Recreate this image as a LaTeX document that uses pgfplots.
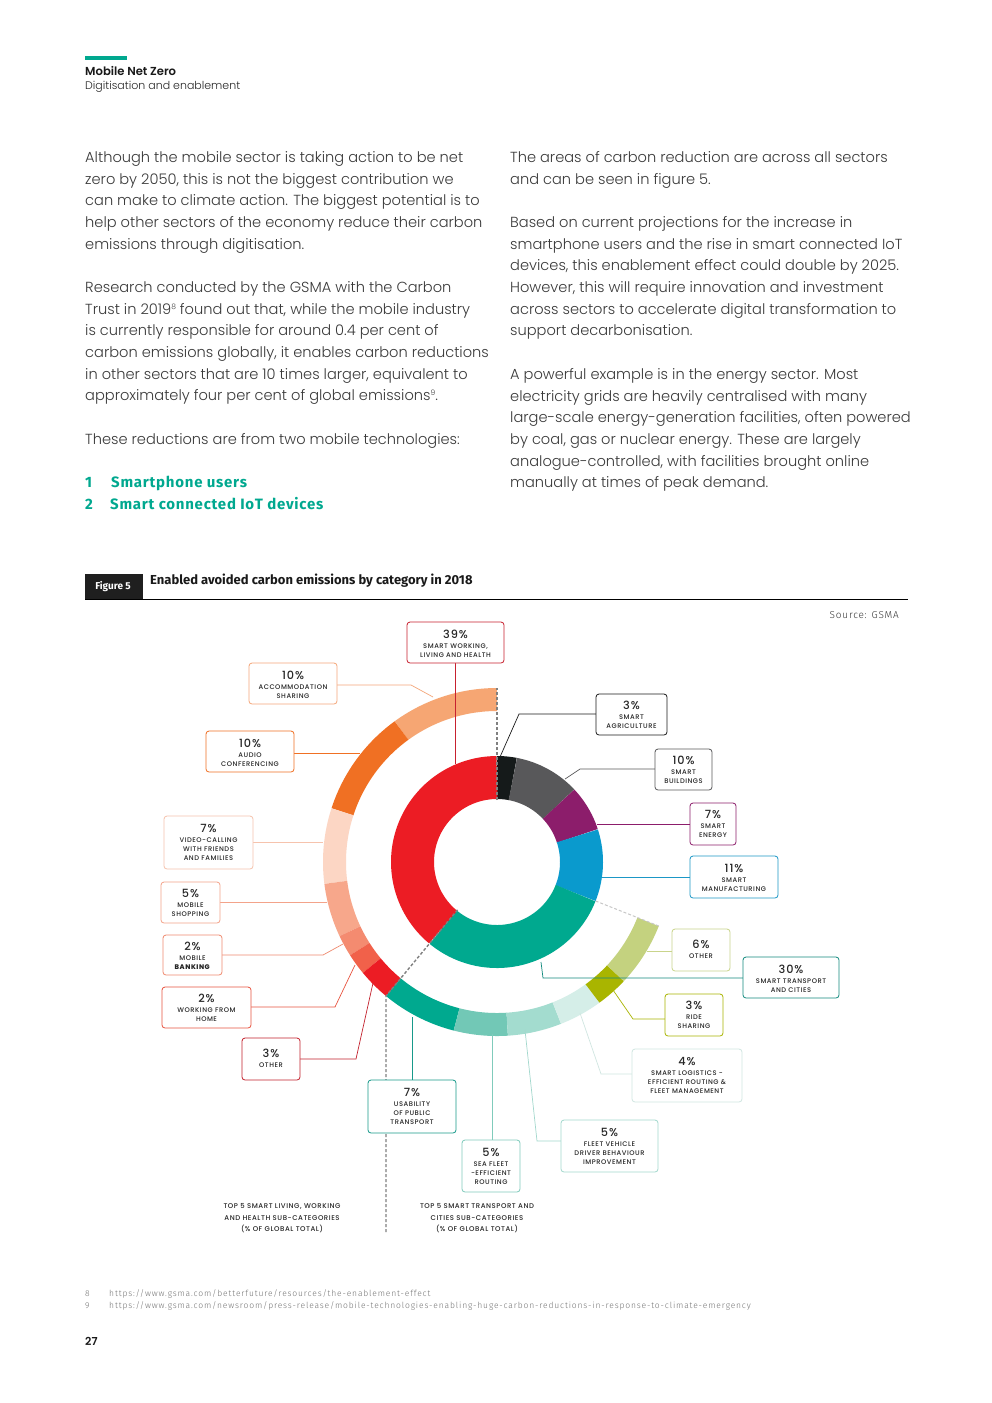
\documentclass[border=0pt]{standalone}
\usepackage{fontspec}
\usepackage{pgfplots}
\pgfplotsset{compat=1.18}
\usepgfplotslibrary{polar}

\setmainfont{Poppins}
\IfFontExistsTF{Poppins Light}{\newfontfamily\fLight{Poppins Light}}{\newfontfamily\fLight{Poppins}}
\IfFontExistsTF{Poppins Medium}{\newfontfamily\fMed{Poppins Medium}[LetterSpace=8]\newfontfamily\fLab{Poppins Medium}[LetterSpace=8]}{\newfontfamily\fMed{Poppins}[LetterSpace=8]\newfontfamily\fLab{Poppins}[LetterSpace=8]}
\IfFontExistsTF{Poppins SemiBold}{\newfontfamily\fSemi{Poppins SemiBold}}{\newfontfamily\fSemi{Poppins Bold}}
\newfontfamily\fFira{Fira Sans}
\newfontfamily\fFiraList{Fira Sans}[LetterSpace=5]
\IfFontExistsTF{Fira Sans Light}{\newfontfamily\fFiraL{Fira Sans Light}[LetterSpace=10]\newfontfamily\fFiraS{Fira Sans Light}[LetterSpace=8]}{\newfontfamily\fFiraL{Fira Sans}[LetterSpace=10]\newfontfamily\fFiraS{Fira Sans}[LetterSpace=8]}

\definecolor{bodytxt}{HTML}{3A3A3A}
\definecolor{teal}{HTML}{00A88F}
\definecolor{agri}{HTML}{151A1A}
\definecolor{build}{HTML}{58585A}
\definecolor{energy}{HTML}{8C1D6B}
\definecolor{manuf}{HTML}{0A9ACD}
\definecolor{transp}{HTML}{00A98F}
\definecolor{work}{HTML}{EC1C24}
\definecolor{accom}{HTML}{F6A673}
\definecolor{audio}{HTML}{F07023}
\definecolor{video}{HTML}{FCD6C4}
\definecolor{shop}{HTML}{F7A78B}
\definecolor{bank}{HTML}{F48B70}
\definecolor{wfh}{HTML}{F1614A}
\definecolor{wother}{HTML}{EC1C24}
\definecolor{pubtr}{HTML}{00A98F}
\definecolor{sea}{HTML}{72C8B6}
\definecolor{fleet}{HTML}{A3DCCF}
\definecolor{logis}{HTML}{D5EEE8}
\definecolor{ride}{HTML}{A9B500}
\definecolor{tother}{HTML}{C4D27F}
% box borders
\definecolor{bwork}{HTML}{C7212F}
\definecolor{baccom}{HTML}{F4A77A}
\definecolor{baudio}{HTML}{F07023}
\definecolor{bvideo}{HTML}{F6C3AD}
\definecolor{bshop}{HTML}{F3A38A}
\definecolor{bbank}{HTML}{EF8A6F}
\definecolor{bwfh}{HTML}{E8533F}
\definecolor{bwother}{HTML}{C3202C}
\definecolor{bagri}{HTML}{1A1A1A}
\definecolor{bbuild}{HTML}{58585A}
\definecolor{benergy}{HTML}{8C1D6B}
\definecolor{bmanuf}{HTML}{1B97C6}
\definecolor{btransp}{HTML}{138A7E}
\definecolor{btother}{HTML}{C9D48B}
\definecolor{bride}{HTML}{A9B500}
\definecolor{blogis}{HTML}{D0E6E1}
\definecolor{bfleet}{HTML}{A3D8CD}
\definecolor{bsea}{HTML}{80CBBB}
\definecolor{bpubtr}{HTML}{17998A}

\newcommand\bodyfont{\fLight\fontsize{14.6}{20}\selectfont}
\newcommand\bl[3]{\node[anchor=base west, inner sep=0, font=\bodyfont, text=bodytxt] at (#1,-#2) {#3};}
\newcommand\fnsup[1]{\raisebox{4.8pt}{\fontsize{7.5}{7.5}\selectfont #1}}

% donut slices: colour, cumulative share (%), share (%)
\newcommand\innerseg[3]{\addplot[no markers, draw=#1, line width=43pt, domain=90-3.6*(#2+#3):90-3.6*(#2), samples=60] {84.5};}
\newcommand\outerseg[3]{\addplot[no markers, draw=#1, line width=23pt, domain=90+3.6*(#2):90+3.6*(#2+#3), samples=60] {162.5};}

% callout box: x1 y1 x2 y2 colour pctY pct labels
\newcommand\cbox[8]{%
  \draw[#5, line width=0.8pt, rounded corners=3pt, fill=white] (#1,-#2) rectangle (#3,-#4);
  \node[inner sep=0, font=\fMed\fontsize{11.3}{12}\selectfont, text=black!85] at ({(#1+#3)/2},-#6) {#7};
  \node[inner sep=0, anchor=north, align=center, font=\fLab\fontsize{6.7}{9}\selectfont, text=black!85] at ({(#1+#3)/2},{-(#6+12-2.4)}) {#8};
}

\begin{document}
\begin{tikzpicture}[x=1pt,y=1pt]
\useasboundingbox[fill=white] (0,0) rectangle (992,-1403);

% header
\fill[teal] (85,-56) rectangle (127,-60);
\node[anchor=base west, inner sep=0, font=\fSemi\fontsize{11.6}{13}\selectfont, text=black!90] at (85,-75) {Mobile Net Zero};
\node[anchor=base west, inner sep=0, font=\fLight\fontsize{11}{13}\selectfont, text=black!85] at (85,-89) {Digitisation and enablement};

% left column
\bl{85}{162}{Although the mobile sector is taking action to be net}
\bl{85}{184}{zero by 2050, this is not the biggest contribution we}
\bl{85}{205}{can make to climate action. The biggest potential is to}
\bl{85}{227}{help other sectors of the economy reduce their carbon}
\bl{85}{249}{emissions through digitisation.}
\bl{85}{292}{Research conducted by the GSMA with the Carbon}
\bl{85}{314}{Trust in 2019\fnsup{8} found out that, while the mobile industry}
\bl{85}{335}{is currently responsible for around 0.4 per cent of}
\bl{85}{357}{carbon emissions globally, it enables carbon reductions}
\bl{85}{379}{in other sectors that are 10 times larger, equivalent to}
\bl{85}{400}{approximately four per cent of global emissions\fnsup{9}.}
\bl{85}{444}{These reductions are from two mobile technologies:}
\node[anchor=base west, inner sep=0, font=\fFiraList\bfseries\fontsize{15}{16}\selectfont, text=teal] at (85,-487) {1};
\node[anchor=base west, inner sep=0, font=\fFiraList\bfseries\fontsize{15}{16}\selectfont, text=teal] at (111,-487) {Smartphone users};
\node[anchor=base west, inner sep=0, font=\fFiraList\bfseries\fontsize{15}{16}\selectfont, text=teal] at (85,-509) {2};
\node[anchor=base west, inner sep=0, font=\fFiraList\bfseries\fontsize{15}{16}\selectfont, text=teal] at (110,-509) {Smart connected IoT devices};

% right column
\bl{510}{162}{The areas of carbon reduction are across all sectors}
\bl{510}{184}{and can be seen in figure 5.}
\bl{510}{227}{Based on current projections for the increase in}
\bl{510}{249}{smartphone users and the rise in smart connected IoT}
\bl{510}{270}{devices, this enablement effect could double by 2025.}
\bl{510}{292}{However, this will require innovation and investment}
\bl{510}{314}{across sectors to accelerate digital transformation to}
\bl{510}{335}{support decarbonisation.}
\bl{510}{379}{A powerful example is in the energy sector. Most}
\bl{510}{401}{electricity grids are heavily centralised with many}
\bl{510}{422}{large-scale energy-generation facilities, often powered}
\bl{510}{444}{by coal, gas or nuclear energy. These are largely}
\bl{510}{466}{analogue-controlled, with facilities brought online}
\bl{510}{487}{manually at times of peak demand.}

% figure title
\fill[black!88] (85,-574) rectangle (143,-599);
\node[inner sep=0, font=\fFira\bfseries\fontsize{10}{12}\selectfont, text=white] at (113,-587) {Figure 5};
\node[anchor=base west, inner sep=0, font=\fFira\bfseries\fontsize{13}{14}\selectfont, text=black!90] at (150,-584.5) {Enabled avoided carbon emissions by category in 2018};
\draw[black, line width=1.6pt] (85,-599.5) -- (908,-599.5);
\node[anchor=base east, inner sep=0, font=\fFiraS\fontsize{10}{11}\selectfont, text=black!80] at (899,-618.5) {Source: GSMA};

% donut chart
\begin{polaraxis}[at={(497,-862)}, anchor=center, scale only axis, width=348pt, height=348pt,
  xmin=0, xmax=360, ymin=0, ymax=174, hide axis, clip=false]
\innerseg{agri}{0}{3}
\innerseg{build}{3}{10}
\innerseg{energy}{13}{7}
\innerseg{manuf}{20}{11}
\innerseg{transp}{31}{30}
\innerseg{work}{61}{39}
\outerseg{accom}{0}{10}
\outerseg{audio}{10}{10}
\outerseg{video}{20}{7}
\outerseg{shop}{27}{5}
\outerseg{bank}{32}{2}
\outerseg{wfh}{34}{2}
\outerseg{wother}{36}{3}
\outerseg{pubtr}{39}{7}
\outerseg{sea}{46}{5}
\outerseg{fleet}{51}{5}
\outerseg{logis}{56}{4}
\outerseg{ride}{60}{3}
\outerseg{tother}{63}{6}
\end{polaraxis}

% dashed separators
\draw[black!50, line width=1.4pt, dash pattern=on 3pt off 2pt] (497,-800) -- (497,-688);
\draw[black!50, line width=1.4pt, dash pattern=on 3pt off 2pt] (457.5,-909.8) -- (386,-996) -- (386,-1232);
\draw[black!22, line width=1pt, dash pattern=on 3pt off 2pt] (595.6,-901) -- (658.8,-926);

% leader lines
\begin{scope}[line width=0.7pt]
\draw[bwork] (455,-663) -- (455,-764);
\draw[baccom] (337,-685) -- (411,-685) -- (433,-697);
\draw[baudio] (294,-753) -- (360,-753);
\draw[bvideo] (253,-842) -- (323,-842);
\draw[bshop] (220,-902) -- (327,-902);
\draw[bbank] (222,-955) -- (323,-955) -- (343,-944);
\draw[bwfh] (251,-1007) -- (335,-1007) -- (355,-965);
\draw[bwother] (300,-1059) -- (356,-1059) -- (373,-983);
\draw[bagri] (596,-714) -- (519,-714) -- (500,-757);
\draw[bbuild] (655,-769) -- (580,-769) -- (565,-779);
\draw[benergy] (690,-824) -- (597,-824);
\draw[bmanuf] (690,-877) -- (602,-877);
\draw[btransp] (743,-978) -- (543,-978) -- (541,-962);
\draw[btother] (672,-951) -- (647,-951);
\draw[bride] (665,-1019) -- (633,-1019) -- (613,-990);
\draw[blogis] (632,-1074) -- (601,-1074) -- (580,-1013);
\draw[bfleet] (561,-1141) -- (537,-1141) -- (525,-1030);
\draw[bsea] (492,-1140) -- (492,-1034);
\draw[bpubtr] (412,-1080) -- (412,-1017);
\end{scope}

% callout boxes
\cbox{407}{622}{504}{663}{bwork}{634}{39\%}{SMART WORKING,\\LIVING AND HEALTH}
\cbox{249}{663}{337}{704}{baccom}{675}{10\%}{ACCOMMODATION\\SHARING}
\cbox{206}{731}{294}{772}{baudio}{743}{10\%}{AUDIO\\CONFERENCING}
\cbox{164}{816}{253}{869}{bvideo}{828}{7\%}{VIDEO-CALLING\\WITH FRIENDS\\AND FAMILIES}
\cbox{161}{882}{220}{923}{bshop}{893}{5\%}{MOBILE\\SHOPPING}
\cbox{163}{935}{222}{975}{bbank}{946}{2\%}{MOBILE\\\textbf{BANKING}}
\cbox{162}{987}{251}{1028}{bwfh}{998}{2\%}{WORKING FROM\\HOME}
\cbox{242}{1038}{300}{1080}{bwother}{1053}{3\%}{OTHER}
\cbox{596}{694}{667}{735}{bagri}{705}{3\%}{SMART\\AGRICULTURE}
\cbox{655}{749}{712}{790}{bbuild}{760}{10\%}{SMART\\BUILDINGS}
\cbox{690}{803}{736}{845}{benergy}{814}{7\%}{SMART\\ENERGY}
\cbox{690}{856}{778}{898}{bmanuf}{868}{11\%}{SMART\\MANUFACTURING}
\cbox{743}{957}{839}{998}{btransp}{969}{30\%}{SMART TRANSPORT\\AND CITIES}
\cbox{672}{929}{730}{971}{btother}{944}{6\%}{OTHER}
\cbox{665}{994}{723}{1036}{bride}{1005}{3\%}{RIDE\\SHARING}
\cbox{632}{1049}{742}{1102}{blogis}{1061}{4\%}{SMART LOGISTICS -\\EFFICIENT ROUTING \&\\FLEET MANAGEMENT}
\cbox{561}{1120}{658}{1172}{bfleet}{1132}{5\%}{FLEET VEHICLE\\DRIVER BEHAVIOUR\\IMPROVEMENT}
\cbox{462}{1140}{520}{1192}{bsea}{1152}{5\%}{SEA FLEET\\-EFFICIENT\\ROUTING}
\cbox{368}{1080}{456}{1133}{bpubtr}{1092}{7\%}{USABILITY\\OF PUBLIC\\TRANSPORT}

% bottom captions
\node[anchor=north, inner sep=0, align=center, font=\fLab\fontsize{6.9}{11.5}\selectfont, text=black!85] at (282,-1203.5) {TOP 5 SMART LIVING, WORKING\\AND HEALTH SUB-CATEGORIES\\(\% OF GLOBAL TOTAL)};
\node[anchor=north, inner sep=0, align=center, font=\fLab\fontsize{6.9}{11.5}\selectfont, text=black!85] at (477,-1203.5) {TOP 5 SMART TRANSPORT AND\\CITIES SUB-CATEGORIES\\(\% OF GLOBAL TOTAL)};

% footnotes
\node[anchor=base west, inner sep=0, font=\fFiraL\fontsize{8.5}{10}\selectfont, text=black!55] at (85,-1296) {8};
\node[anchor=base west, inner sep=0, font=\fFiraL\fontsize{8.5}{10}\selectfont, text=black!55] at (109,-1296) {https://www.gsma.com/betterfuture/resources/the-enablement-effect};
\node[anchor=base west, inner sep=0, font=\fFiraL\fontsize{8.5}{10}\selectfont, text=black!55] at (85,-1308) {9};
\node[anchor=base west, inner sep=0, font=\fFiraL\fontsize{8.5}{10}\selectfont, text=black!55] at (109,-1308) {https://www.gsma.com/newsroom/press-release/mobile-technologies-enabling-huge-carbon-reductions-in-response-to-climate-emergency};
\node[anchor=base west, inner sep=0, font=\fSemi\fontsize{11}{13}\selectfont, text=black!90] at (85,-1345) {27};
\end{tikzpicture}
\end{document}
